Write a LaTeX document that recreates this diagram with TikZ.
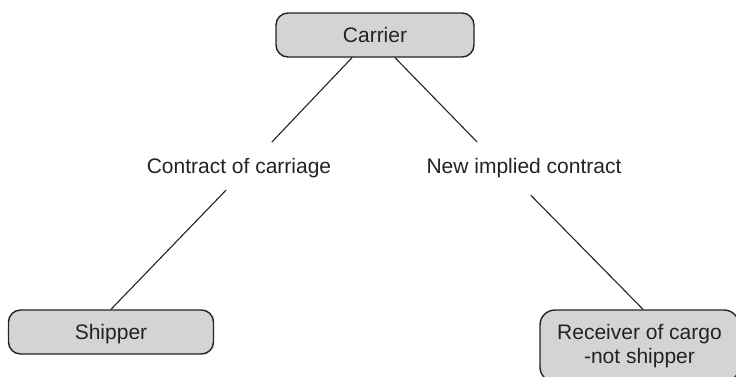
\documentclass[tikz,border=0pt]{standalone}
\usepackage{fontspec}
\setmainfont{Liberation Sans}
\definecolor{boxgray}{RGB}{212,212,214}
\definecolor{ink}{RGB}{35,35,35}
\begin{document}
\begin{tikzpicture}[x=1pt, y=-1pt, font=\fontsize{21}{23.5}\selectfont, line join=round, line cap=round,
	box/.style={draw=ink, fill=boxgray, line width=1.4pt, rounded corners=12pt, inner sep=0pt, text=ink},
	slim/.style={box, text height=15pt, text depth=0pt, minimum height=44pt},
	tag/.style={inner sep=0pt, anchor=base, text=ink}]
	\useasboundingbox (0,0) rectangle (736,376);
	% parties
	\node[slim, minimum width=198pt] (carrier) at (375,35) {Carrier};
	\node[slim, minimum width=205pt] (shipper) at (111,332) {Shipper};
	\node[box, minimum width=199pt, minimum height=72pt, align=center, rounded corners=15pt] (receiver) at (639.5,346) {Receiver of cargo\\-not shipper};
	% contracts
	\node[tag] (contract) at (239,173.3) {Contract of carriage};
	\node[tag] (implied) at (524,173.3) {New implied contract};
	\draw[ink, line width=1.1pt]
	([xshift=-23pt]carrier.south)--([xshift=33pt,yshift=16pt]contract.north)
	([xshift=20pt]carrier.south)--([xshift=-47pt,yshift=16pt]implied.north)
	([xshift=-13pt,yshift=-12.3pt]contract.south)--(shipper.north)
	([xshift=7pt,yshift=-17.6pt]implied.south)--([xshift=3.5pt]receiver.north)
	;
\end{tikzpicture}
\end{document}
